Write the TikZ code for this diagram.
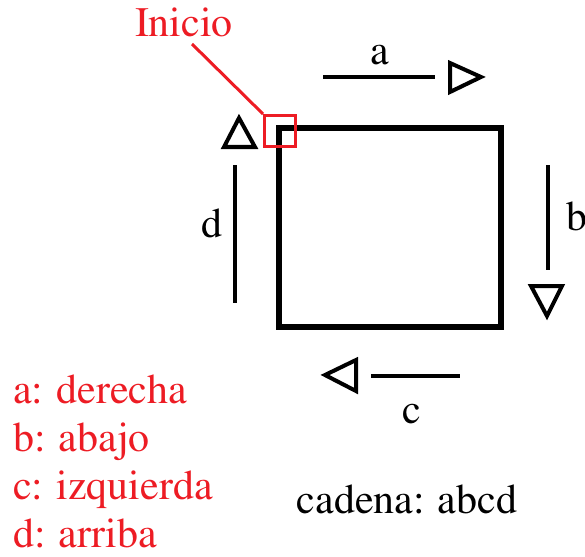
\documentclass[tikz,border=0pt]{standalone}
\usepackage[T1]{fontenc}
\renewcommand{\rmdefault}{ptm}
\definecolor{pntred}{RGB}{237,28,36}

\begin{document}
\begin{tikzpicture}[
  x=1pt, y=-1pt,
  font=\rmfamily\fontsize{42}{50}\selectfont,
  lbl/.style={anchor=base, inner sep=0pt},
  leg/.style={anchor=base west, inner sep=0pt, text=pntred},
  dir/.style={line width=4pt},
  tip/.style={line width=4pt, line join=miter}
]
\useasboundingbox (0,0) rectangle (585,556);

% --- recorrido ---
\draw[line width=6.5pt] (279,128) rectangle (501,327);

% --- flechas a, b, c, d ---
\draw[dir] (323,77) -- (435,77);
\draw[tip] (450,63) -- (481,77) -- (450,92) -- cycle;
\draw[dir] (548,165) -- (548,270);
\draw[tip] (531,286) -- (562,286) -- (547,316) -- cycle;
\draw[dir] (371,376) -- (460,376);
\draw[tip] (356,360) -- (325,375) -- (356,391) -- cycle;
\draw[dir] (235,165) -- (235,303);
\draw[tip] (224,147) -- (239,118) -- (255,147) -- cycle;

\node[lbl] (la) at (380,65) {a};
\node[lbl] (lb) at (577,230) {b};
\node[lbl] (lc) at (412,423) {c};
\node[lbl] (ld) at (212,237) {d};

% --- inicio ---
\node[lbl, text=pntred] (inicio) at (184,37) {Inicio};
\node[draw=pntred, line width=3pt, minimum size=31pt, inner sep=0pt] (marca) at (280,131) {};
\coordinate (pie) at (192,44);
\draw[pntred, line width=3pt] (pie) -- (marca.north west);

% --- leyenda ---
\foreach \t [count=\i] in {a: derecha, b: abajo, c: izquierda, d: arriba}
  \node[leg] (ley\i) at (13,{403+48*(\i-1)}) {\t};

\node[lbl] (cadena) at (407,513) {cadena: abcd};

\end{tikzpicture}
\end{document}
